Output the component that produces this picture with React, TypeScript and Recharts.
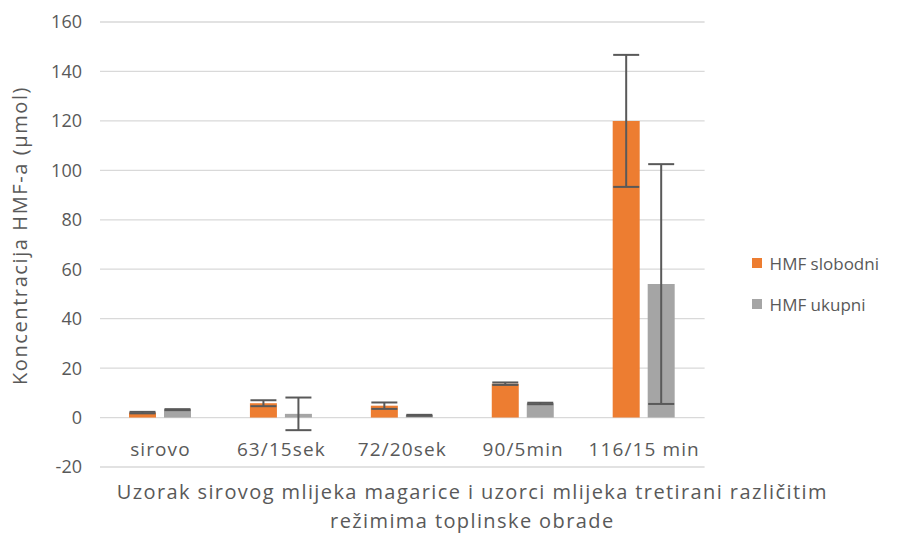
import React from "react";
import {
  BarChart,
  Bar,
  XAxis,
  YAxis,
  CartesianGrid,
  ErrorBar,
  Legend,
  Label,
} from "recharts";

const categories = ["sirovo", "63/15sek", "72/20sek", "90/5min", "116/15 min"];
const slobodni = [2.0, 5.8, 4.8, 13.7, 120];
const slobodniErr = [0.3, 1.2, 1.3, 0.5, 26.7];
const ukupni = [3.2, 1.5, 0.9, 5.7, 54];
const ukupniErr = [0.2, 6.6, 0.2, 0.3, 48.5];
const yTicks = [-20, 0, 20, 40, 60, 80, 100, 120, 140, 160];

const data = categories.map((name, i) => ({
  name,
  slobodni: slobodni[i],
  slobodniErr: slobodniErr[i],
  ukupni: ukupni[i],
  ukupniErr: ukupniErr[i],
}));

const FONT = "'Open Sans', sans-serif";
const TEXT = "#595959";

const XTick = (props: any) => {
  const { x, y, payload } = props;
  return (
    <text
      x={x}
      y={y - 19}
      textAnchor="middle"
      fill={TEXT}
      fontSize={19}
      letterSpacing={1.1}
      fontFamily={FONT}
    >
      {payload.value}
    </text>
  );
};

const XTitle = (props: any) => {
  const { viewBox } = props;
  const cx = viewBox.x + viewBox.width / 2 + 70;
  const style = { fill: TEXT, fontSize: 20, fontFamily: FONT, letterSpacing: 1.4 };
  return (
    <g>
      <text x={cx} y={viewBox.y + 32} textAnchor="middle" style={style}>
        Uzorak sirovog mlijeka magarice i uzorci mlijeka tretirani različitim
      </text>
      <text x={cx} y={viewBox.y + 61} textAnchor="middle" style={style}>
        režimima toplinske obrade
      </text>
    </g>
  );
};

const YTitle = (props: any) => {
  const { viewBox } = props;
  const cy = viewBox.y + viewBox.height / 2 - 9;
  return (
    <text
      x={27}
      y={cy}
      transform={`rotate(-90, 27, ${cy})`}
      textAnchor="middle"
      style={{ fill: TEXT, fontSize: 20, fontFamily: FONT, letterSpacing: 1.6 }}
    >
      Koncentracija HMF-a (µmol)
    </text>
  );
};

const LegendBox = () => (
  <div style={{ paddingLeft: 47, paddingRight: 8, paddingTop: 34, fontFamily: FONT, fontSize: 17, color: TEXT }}>
    {[
      { label: "HMF slobodni", color: "#ED7D31" },
      { label: "HMF ukupni", color: "#A5A5A5" },
    ].map((it, i) => (
      <div key={it.label} style={{ display: "flex", alignItems: "center", marginTop: i ? 18 : 0 }}>
        <span style={{ width: 10, height: 10, background: it.color, marginRight: 8, display: "inline-block" }} />
        <span>{it.label}</span>
      </div>
    ))}
  </div>
);

export default function App() {
  return (
    <div style={{ position: "absolute", left: 0, top: 0, background: "#fff" }}>
      <BarChart
        width={909}
        height={533}
        data={data}
        margin={{ top: 22, right: 22, bottom: 0, left: 0 }}
        barSize={27}
        barGap={8}
      >
        <CartesianGrid vertical={false} stroke="#D9D9D9" strokeWidth={1.3} />
        <XAxis
          dataKey="name"
          axisLine={false}
          tickLine={false}
          tick={<XTick />}
          height={66}
          interval={0}
        >
          <Label content={<XTitle />} />
        </XAxis>
        <YAxis
          domain={[-20, 160]}
          ticks={yTicks}
          axisLine={false}
          tickLine={false}
          width={100}
          tickMargin={12}
          tick={{ fill: TEXT, fontSize: 18, fontFamily: FONT }}
          interval={0}
        >
          <Label content={<YTitle />} />
        </YAxis>
        <Legend
          layout="vertical"
          align="right"
          verticalAlign="middle"
          content={<LegendBox />}
        />
        <Bar dataKey="slobodni" name="HMF slobodni" fill="#ED7D31" isAnimationActive={false}>
          <ErrorBar dataKey="slobodniErr" width={13} stroke="#595959" strokeWidth={2} />
        </Bar>
        <Bar dataKey="ukupni" name="HMF ukupni" fill="#A5A5A5" isAnimationActive={false}>
          <ErrorBar dataKey="ukupniErr" width={13} stroke="#595959" strokeWidth={2} />
        </Bar>
      </BarChart>
    </div>
  );
}
